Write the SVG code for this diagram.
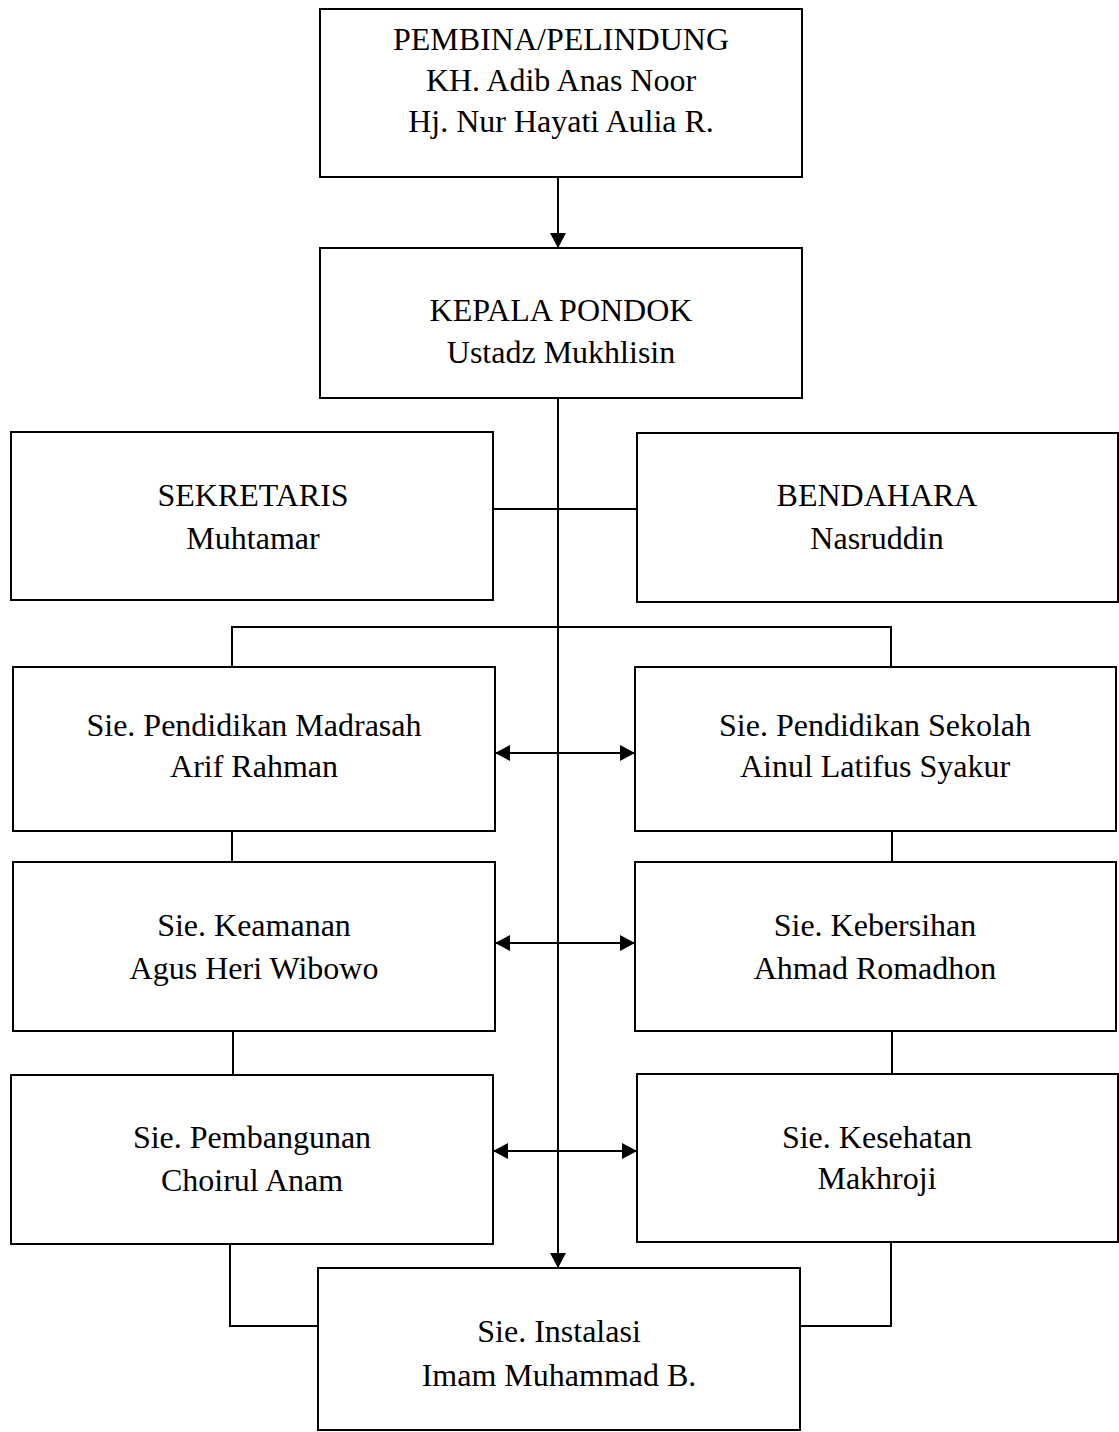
<svg xmlns="http://www.w3.org/2000/svg" width="1119" height="1432" viewBox="0 0 1119 1432">
<style>
.box{fill:#fff;stroke:#000;stroke-width:2}
.ln{fill:none;stroke:#000;stroke-width:2}
text{font-family:"Liberation Serif","Times New Roman",serif;font-size:32px;fill:#000;text-anchor:middle}
</style>
<defs>
<marker id="ah" viewBox="0 0 15 16" refX="15" refY="8" markerWidth="15" markerHeight="16" orient="auto-start-reverse" markerUnits="userSpaceOnUse">
<path d="M0,0 L15,8 L0,16 z" fill="#000"/>
</marker>
</defs>
<rect width="1119" height="1432" fill="#fff"/>
<g id="connectors">
<line class="ln" x1="558" y1="177" x2="558" y2="248" marker-end="url(#ah)"/>
<line class="ln" x1="558" y1="398" x2="558" y2="1268" marker-end="url(#ah)"/>
<line class="ln" x1="493" y1="509" x2="637" y2="509"/>
<polyline class="ln" points="232,667 232,627 891,627 891,667"/>
<line class="ln" x1="495" y1="753" x2="635" y2="753" marker-start="url(#ah)" marker-end="url(#ah)"/>
<line class="ln" x1="232" y1="831" x2="232" y2="862"/>
<line class="ln" x1="892" y1="831" x2="892" y2="862"/>
<line class="ln" x1="495" y1="943" x2="635" y2="943" marker-start="url(#ah)" marker-end="url(#ah)"/>
<line class="ln" x1="233" y1="1031" x2="233" y2="1075"/>
<line class="ln" x1="892" y1="1031" x2="892" y2="1074"/>
<line class="ln" x1="493" y1="1151" x2="637" y2="1151" marker-start="url(#ah)" marker-end="url(#ah)"/>
<polyline class="ln" points="230,1244 230,1326 318,1326"/>
<polyline class="ln" points="891,1242 891,1326 800,1326"/>
</g>
<g id="pembina"><rect class="box" x="320" y="9" width="482" height="168"/>
<text x="561" y="50">PEMBINA/PELINDUNG</text><text x="561" y="91">KH. Adib Anas Noor</text><text x="561" y="132">Hj. Nur Hayati Aulia R.</text></g>
<g id="kepala"><rect class="box" x="320" y="248" width="482" height="150"/>
<text x="561" y="321">KEPALA PONDOK</text><text x="561" y="363">Ustadz Mukhlisin</text></g>
<g id="sekretaris"><rect class="box" x="11" y="432" width="482" height="168"/>
<text x="253" y="506">SEKRETARIS</text><text x="253" y="549">Muhtamar</text></g>
<g id="bendahara"><rect class="box" x="637" y="433" width="481" height="169"/>
<text x="877" y="506">BENDAHARA</text><text x="877" y="549">Nasruddin</text></g>
<g id="madrasah"><rect class="box" x="13" y="667" width="482" height="164"/>
<text x="254" y="736">Sie. Pendidikan Madrasah</text><text x="254" y="777">Arif Rahman</text></g>
<g id="sekolah"><rect class="box" x="635" y="667" width="481" height="164"/>
<text x="875" y="736">Sie. Pendidikan Sekolah</text><text x="875" y="777">Ainul Latifus Syakur</text></g>
<g id="keamanan"><rect class="box" x="13" y="862" width="482" height="169"/>
<text x="254" y="936">Sie. Keamanan</text><text x="254" y="979">Agus Heri Wibowo</text></g>
<g id="kebersihan"><rect class="box" x="635" y="862" width="481" height="169"/>
<text x="875" y="936">Sie. Kebersihan</text><text x="875" y="979">Ahmad Romadhon</text></g>
<g id="pembangunan"><rect class="box" x="11" y="1075" width="482" height="169"/>
<text x="252" y="1148">Sie. Pembangunan</text><text x="252" y="1191">Choirul Anam</text></g>
<g id="kesehatan"><rect class="box" x="637" y="1074" width="481" height="168"/>
<text x="877" y="1148">Sie. Kesehatan</text><text x="877" y="1189">Makhroji</text></g>
<g id="instalasi"><rect class="box" x="318" y="1268" width="482" height="162"/>
<text x="559" y="1342">Sie. Instalasi</text><text x="559" y="1386">Imam Muhammad B.</text></g>
</svg>
